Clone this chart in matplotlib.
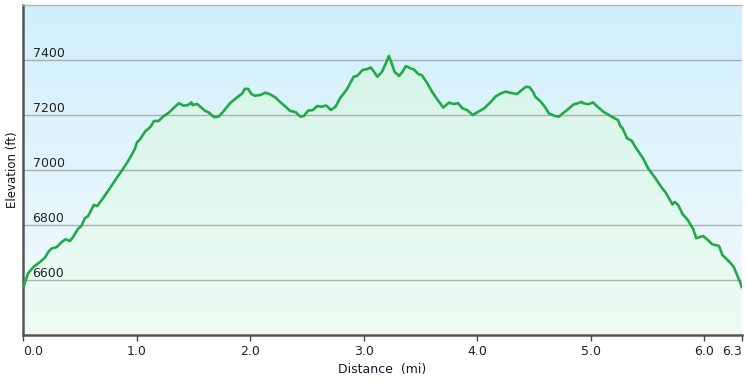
import numpy as np
import matplotlib
matplotlib.use('Agg')
import matplotlib.pyplot as plt
from matplotlib.colors import LinearSegmentedColormap
from matplotlib import transforms

# 距离 (mi) 和海拔 (ft)
distance = [0.00, 0.04, 0.09, 0.15, 0.19, 0.22, 0.25, 0.29, 0.34, 0.37, 0.41, 0.44,
            0.48, 0.51, 0.54, 0.57, 0.62, 0.65, 0.70, 0.76, 0.81, 0.85, 0.90, 0.94,
            0.98, 1.00, 1.03, 1.07, 1.12, 1.15, 1.19, 1.23, 1.28, 1.32, 1.37, 1.41,
            1.45, 1.48, 1.49, 1.53, 1.56, 1.60, 1.63, 1.68, 1.72, 1.76, 1.82, 1.88,
            1.93, 1.95, 1.98, 2.01, 2.04, 2.09, 2.13, 2.17, 2.22, 2.26, 2.31, 2.35,
            2.40, 2.44, 2.47, 2.51, 2.55, 2.59, 2.62, 2.67, 2.71, 2.75, 2.79, 2.85,
            2.91, 2.94, 2.99, 3.03, 3.06, 3.09, 3.12, 3.16, 3.20, 3.22, 3.24, 3.27,
            3.31, 3.34, 3.37, 3.41, 3.44, 3.48, 3.51, 3.56, 3.60, 3.65, 3.70, 3.75,
            3.79, 3.83, 3.87, 3.91, 3.96, 4.00, 4.06, 4.12, 4.16, 4.21, 4.25, 4.29,
            4.35, 4.38, 4.43, 4.46, 4.49, 4.51, 4.56, 4.60, 4.63, 4.68, 4.72, 4.76,
            4.80, 4.85, 4.89, 4.92, 4.93, 4.98, 5.02, 5.06, 5.11, 5.16, 5.21, 5.24,
            5.26, 5.28, 5.32, 5.36, 5.40, 5.46, 5.51, 5.56, 5.62, 5.66, 5.72, 5.74,
            5.77, 5.81, 5.85, 5.90, 5.93, 5.99, 6.03, 6.07, 6.13, 6.16, 6.19, 6.22,
            6.26, 6.29, 6.32, 6.33]
elevation = [6576, 6624, 6648, 6667, 6682, 6703, 6715, 6719, 6739, 6748, 6742, 6758,
             6786, 6796, 6824, 6833, 6873, 6869, 6897, 6933, 6964, 6988, 7018, 7045,
             7075, 7100, 7113, 7139, 7157, 7178, 7178, 7194, 7208, 7224, 7243, 7234,
             7236, 7246, 7236, 7240, 7230, 7215, 7210, 7192, 7194, 7212, 7243, 7263,
             7279, 7295, 7295, 7276, 7270, 7273, 7281, 7276, 7264, 7248, 7230, 7215,
             7210, 7194, 7196, 7216, 7218, 7233, 7230, 7234, 7218, 7230, 7261, 7293,
             7339, 7342, 7364, 7367, 7373, 7357, 7339, 7357, 7394, 7415, 7394, 7357,
             7342, 7357, 7378, 7370, 7366, 7349, 7345, 7315, 7285, 7255, 7227, 7245,
             7240, 7243, 7224, 7218, 7200, 7210, 7224, 7248, 7267, 7279, 7285, 7281,
             7276, 7287, 7303, 7301, 7285, 7267, 7248, 7227, 7206, 7197, 7194, 7208,
             7221, 7239, 7243, 7248, 7243, 7239, 7246, 7230, 7212, 7200, 7188, 7182,
             7160, 7152, 7115, 7107, 7079, 7043, 7003, 6976, 6939, 6918, 6875, 6884,
             6873, 6839, 6821, 6788, 6752, 6760, 6746, 6730, 6724, 6691, 6679, 6667,
             6648, 6618, 6588, 6575]

x_ticks = [0, 1, 2, 3, 4, 5, 6, 6.33]
x_labels = ['0.0', '1.0', '2.0', '3.0', '4.0', '5.0', '6.0', '6.3']
y_ticks = [6600, 6800, 7000, 7200, 7400]

x_min, x_max = 0, 6.33
y_min, y_max = 6400, 7600

fig = plt.figure(figsize=(7.46, 3.81), dpi=100)
ax = fig.add_axes([0.0315, 0.1207, 0.9627, 0.8662])
ax.set_xlim(x_min, x_max)
ax.set_ylim(y_min, y_max)

# 背景渐变 (上面浅蓝，下面接近白色)
sky = LinearSegmentedColormap.from_list('sky', ['#f4fbfe', '#d0effb'])
grad = np.linspace(0, 1, 256).reshape(-1, 1)
ax.imshow(grad, cmap=sky, aspect='auto', origin='lower',
          extent=[x_min, x_max, y_min, y_max], zorder=0)

# 曲线下方的绿色渐变填充
fill = ax.fill_between(distance, elevation, y_min, color='none', zorder=1)
mint = LinearSegmentedColormap.from_list('mint', ['#eefcf4', '#d6f4e8'])
im = ax.imshow(grad, cmap=mint, aspect='auto', origin='lower',
               extent=[x_min, x_max, y_min, max(elevation)], zorder=1)
im.set_clip_path(fill.get_paths()[0], transform=ax.transData)

# 网格线
for v in y_ticks:
    ax.axhline(v, color='#a8b0b6', lw=1, zorder=2)

ax.plot(distance, elevation, color='#22aa46', lw=1.9, zorder=3,
        solid_joinstyle='round')

# y 轴标签放在图内
trans = transforms.blended_transform_factory(ax.transAxes, ax.transData)
for v in y_ticks:
    ax.annotate(str(v), xy=(0, v), xycoords=trans, xytext=(6.5, 2),
                textcoords='offset points', ha='left', va='baseline',
                fontsize=9, color='#222222')
ax.set_yticks([])

ax.set_xticks(x_ticks)
ax.set_xticklabels(x_labels, fontsize=9, color='#222222')
labels = ax.get_xticklabels()
labels[0].set_ha('left')
labels[-1].set_ha('right')
ax.tick_params(axis='x', length=4, width=1, color='#444444', pad=3)

ax.set_xlabel('Distance  (mi)', fontsize=9, color='#221133', labelpad=4)
ax.set_ylabel('Elevation (ft)', fontsize=8.5, color='#111111', labelpad=3)

for s in ['left', 'bottom']:
    ax.spines[s].set_color('#555555')
    ax.spines[s].set_linewidth(1.8)
ax.spines['top'].set_color('#b4b4b4')
ax.spines['top'].set_linewidth(1)
ax.spines['right'].set_visible(False)

fig.savefig('out.png', dpi=100)
